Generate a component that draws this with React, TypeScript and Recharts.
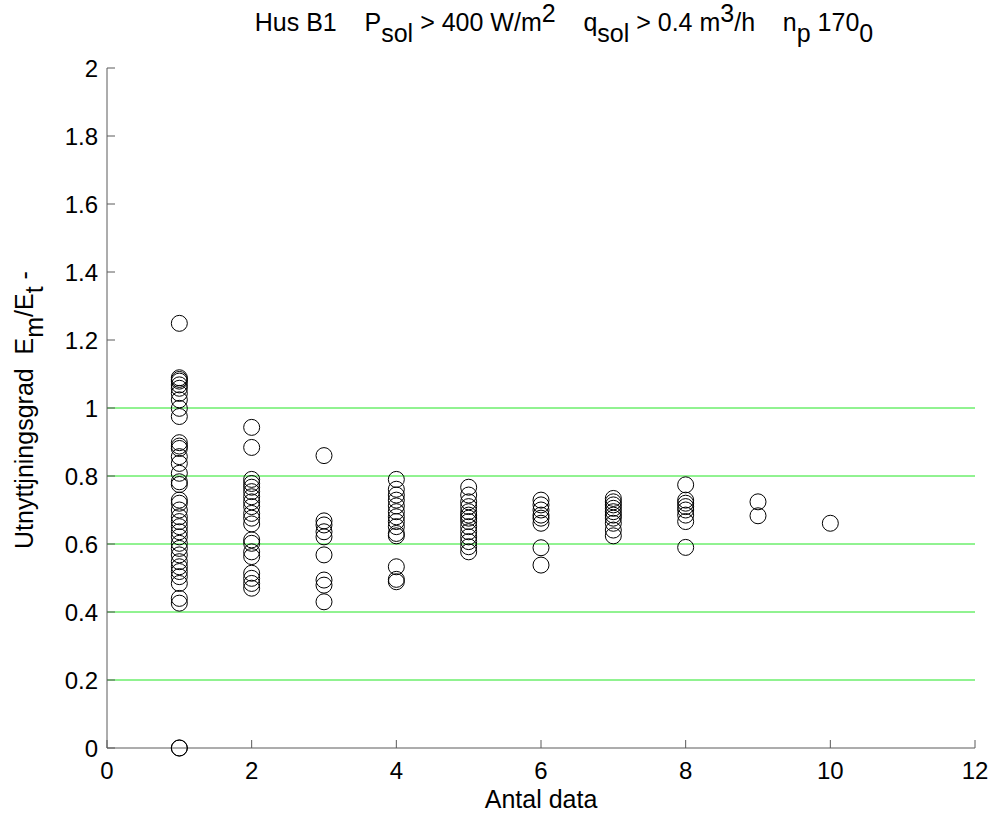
import React from "react";
import { ScatterChart, Scatter, XAxis, YAxis, ReferenceLine } from "recharts";

const col1 = [1.249, 1.089, 1.084, 1.079, 1.068, 1.058, 1.043, 1.024, 0.999, 0.975, 0.898, 0.888, 0.881, 0.857, 0.837, 0.808, 0.783, 0.775, 0.729, 0.72, 0.7, 0.68, 0.666, 0.651, 0.636, 0.621, 0.602, 0.587, 0.568, 0.548, 0.533, 0.519, 0.504, 0.484, 0.44, 0.426, 0, 0];
const col2 = [0.943, 0.884, 0.79, 0.778, 0.767, 0.754, 0.739, 0.724, 0.71, 0.69, 0.676, 0.659, 0.612, 0.602, 0.577, 0.563, 0.514, 0.499, 0.484, 0.47];
const col3 = [0.86, 0.668, 0.656, 0.636, 0.621, 0.568, 0.494, 0.479, 0.43];
const col4 = [0.79, 0.761, 0.744, 0.729, 0.712, 0.695, 0.68, 0.666, 0.651, 0.631, 0.624, 0.533, 0.496, 0.489];
const col5 = [0.767, 0.744, 0.724, 0.71, 0.695, 0.685, 0.676, 0.666, 0.651, 0.636, 0.621, 0.607, 0.592, 0.577];
const col6 = [0.729, 0.715, 0.7, 0.685, 0.676, 0.661, 0.589, 0.538];
const col7 = [0.734, 0.724, 0.715, 0.705, 0.695, 0.685, 0.676, 0.661, 0.641, 0.624];
const col8 = [0.774, 0.729, 0.72, 0.71, 0.7, 0.685, 0.666, 0.59];
const col9 = [0.724, 0.683];
const col10 = [0.661];

const columns = [col1, col2, col3, col4, col5, col6, col7, col8, col9, col10];
const xTicks = [0, 2, 4, 6, 8, 10, 12];
const yTicks = [0, 0.2, 0.4, 0.6, 0.8, 1, 1.2, 1.4, 1.6, 1.8, 2];
const gridValues = [0.2, 0.4, 0.6, 0.8, 1];

const data = columns.flatMap((vals, i) => vals.map((v) => ({ x: i + 1, y: v })));

const FONT = "'Liberation Sans', Arial, Helvetica, sans-serif";
const FS = 24;
const LFS = 25;
const AXIS = "#5a5a5a";
const GAP = "\u00a0\u00a0\u00a0\u00a0";

const YTick = (props: any) => {
  const { x, y, payload } = props;
  return (
    <g>
      <line x1={x} x2={x + 8} y1={y} y2={y} stroke={AXIS} strokeWidth={1} />
      <text x={x - 9} y={y} textAnchor="end" dominantBaseline="central" fontSize={FS} fontFamily={FONT} fill="#000">
        {String(payload.value)}
      </text>
    </g>
  );
};

const XTick = (props: any) => {
  const { x, y, payload } = props;
  return (
    <g>
      <line x1={x} x2={x} y1={y} y2={y - 8} stroke={AXIS} strokeWidth={1} />
      <text x={x} y={y + 22} textAnchor="middle" dominantBaseline="central" fontSize={FS} fontFamily={FONT} fill="#000">
        {String(payload.value)}
      </text>
    </g>
  );
};

const Ring = (props: any) => {
  const { cx, cy } = props;
  return <circle cx={cx} cy={cy} r={8} fill="none" stroke="#000" strokeWidth={1} />;
};

export default function App() {
  return (
    <div style={{ position: "absolute", left: 0, top: 0, width: 994, height: 820, background: "#fff" }}>
      <ScatterChart width={994} height={820} margin={{ top: 68, right: 19, bottom: 0, left: 0 }}>
        <XAxis
          type="number"
          dataKey="x"
          domain={[0, 12]}
          ticks={xTicks}
          interval={0}
          height={72}
          tickSize={0}
          tickMargin={0}
          tickLine={false}
          axisLine={{ stroke: AXIS }}
          tick={<XTick />}
        />
        <YAxis
          type="number"
          dataKey="y"
          domain={[0, 2]}
          ticks={yTicks}
          interval={0}
          width={107}
          tickSize={0}
          tickMargin={0}
          tickLine={false}
          axisLine={{ stroke: AXIS }}
          tick={<YTick />}
        />
        {gridValues.map((v) => (
          <ReferenceLine key={v} y={v} stroke="#22e622" strokeWidth={1} />
        ))}
        <Scatter data={data} shape={<Ring />} isAnimationActive={false} />
      </ScatterChart>
      <svg width={994} height={820} style={{ position: "absolute", left: 0, top: 0, pointerEvents: "none" }}>
        <text x={564} y={31} textAnchor="middle" fontSize={LFS} fontFamily={FONT} fill="#000">
          <tspan>{"Hus B1" + GAP + "P"}</tspan>
          <tspan dy={11}>sol</tspan>
          <tspan dy={-11}>{" > 400 W/m"}</tspan>
          <tspan dy={-9}>2</tspan>
          <tspan dy={9}>{GAP + "q"}</tspan>
          <tspan dy={11}>sol</tspan>
          <tspan dy={-11}>{" > 0.4 m"}</tspan>
          <tspan dy={-9}>3</tspan>
          <tspan dy={9}>{"/h" + GAP + "n"}</tspan>
          <tspan dy={11}>p</tspan>
          <tspan dy={-11}>{" 170"}</tspan>
          <tspan dy={11}>0</tspan>
        </text>
        <text
          transform="translate(33,410) rotate(-90)"
          x={0}
          y={0}
          textAnchor="middle"
          fontSize={LFS}
          fontFamily={FONT}
          fill="#000"
        >
          <tspan>{"Utnyttjningsgrad\u00a0\u00a0E"}</tspan>
          <tspan dy={10}>m</tspan>
          <tspan dy={-10}>/E</tspan>
          <tspan dy={10}>t</tspan>
          <tspan dy={-10}> -</tspan>
        </text>
        <text x={541} y={808} textAnchor="middle" fontSize={LFS} fontFamily={FONT} fill="#000">
          Antal data
        </text>
      </svg>
    </div>
  );
}
